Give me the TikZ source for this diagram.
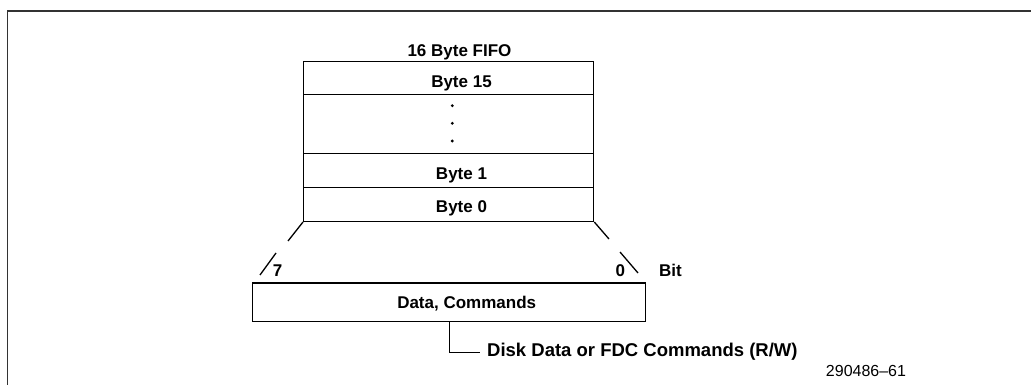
\documentclass[tikz,border=0pt]{standalone}
\usepackage{fontspec}
\setmainfont{Liberation Sans}
\begin{document}
\begin{tikzpicture}[x=1pt,y=-1pt,
  rowbox/.style={draw,line width=1.3pt,inner sep=0pt,anchor=north west},
  lbl/.style={font=\bfseries\fontsize{17}{20}\selectfont,inner sep=0pt,anchor=base},
  small/.style={font=\fontsize{16}{19}\selectfont,inner sep=0pt,anchor=base},
  brk/.style={line width=1.3pt},
  wire/.style={line width=1.3pt}]
\useasboundingbox (0,0) rectangle (1031,385);
% frame
\draw[line width=1.6pt,black!80] (7.3,386) -- (7.3,11) -- (1032,11);
% FIFO rows
\node[rowbox,minimum width=290pt,minimum height=33pt] (b15) at (303,61) {};
\node[rowbox,minimum width=290pt,minimum height=58.7pt] (dots) at (303,94) {};
\node[rowbox,minimum width=290pt,minimum height=34pt] (b1) at (303,152.7) {};
\node[rowbox,minimum width=290pt,minimum height=34pt] (b0) at (303,186.7) {};
\node[lbl] (title) at (459.5,56.7) {16 Byte FIFO};
\node[lbl] (t15) at (461.5,87.3) {Byte 15};
\node[lbl] (t1) at (461.5,179.3) {Byte 1};
\node[lbl] (t0) at (461.5,212.7) {Byte 0};
\foreach \yy [count=\i] in {105.7,123.3,141}
  \fill (452.3,\yy) circle (1.6pt) coordinate (d\i);
% data box
\node[draw,line width=1.3pt,inner sep=0pt,anchor=north west,minimum width=393pt,minimum height=38.4pt] (data) at (252,282.3) {};
\node[lbl] (dtxt) at (466.7,308) {Data, Commands};
% break lines
\coordinate (l1) at (288,241);
\coordinate (l2) at (276,253);
\coordinate (l3) at (260,275);
\coordinate (r1) at (609,239);
\coordinate (r2) at (620,252);
\coordinate (r3) at (638,273);
\draw[brk] (b0.south west) -- (l1);
\draw[brk] (l2) -- (l3);
\draw[brk] (b0.south east) -- (r1);
\draw[brk] (r2) -- (r3);
\node[lbl] (seven) at (277.5,276.7) {7};
\node[lbl] (zero) at (620.3,276.7) {0};
\node[lbl] (bit) at (670.5,276.7) {Bit};
% output
\coordinate (hend) at (480,352.3);
\draw[wire] (data.south) |- (hend);
\node[lbl,font=\bfseries\fontsize{18.5}{22}\selectfont,anchor=base west] (disk) at (487,356) {Disk Data or FDC Commands (R/W)};
\node[small] (fig) at (866,376) {290486–61};
\end{tikzpicture}
\end{document}
